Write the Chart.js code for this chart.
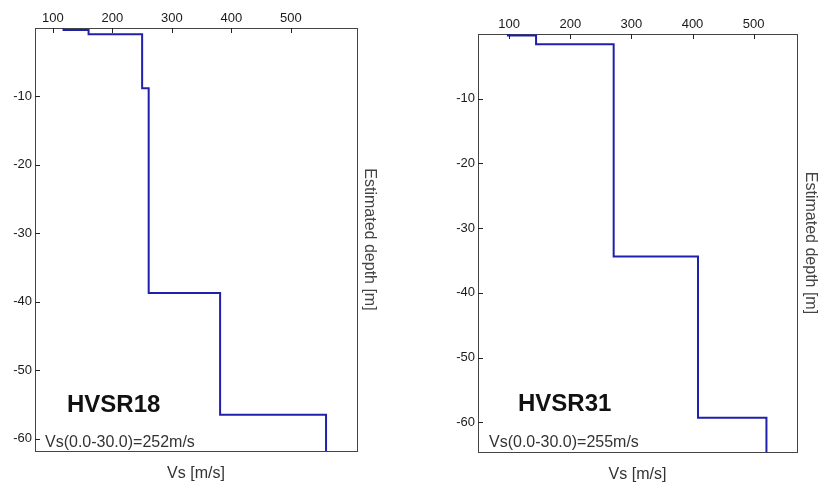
<!DOCTYPE html>
<html>
<head>
<meta charset="utf-8">
<script src="https://cdn.jsdelivr.net/npm/chart.js@4"></script>
<style>
  body { margin: 0; background: #fff; }
  canvas { position: absolute; top: 0; }
</style>
</head>
<body>
<canvas id="hvsr18" width="400" height="486" style="left:0"></canvas>
<canvas id="hvsr31" width="418" height="486" style="left:400px"></canvas>
<script>
// tick labels shared by both panels
const xTicks = [100, 200, 300, 400, 500];
const yTicks = [-10, -20, -30, -40, -50, -60];

// HVSR18: Vs of each layer and the depth of its top
const vs18 = [118, 160, 250, 261, 381, 559];
const top18 = [0, -0.3, -0.9, -8.8, -38.7, -56.5];
const xRange18 = [70, 611];
const yRange18 = [-61.8, 0];

// HVSR31
const vs31 = [98, 144, 271, 409, 521];
const top31 = [0, -0.25, -1.6, -34.4, -59.3];
const xRange31 = [49, 571];
const yRange31 = [-64.6, 0];

const FONT = '"Liberation Sans", Arial, sans-serif';
const LINE = '#2020aa';
const AXIS = '#444';

// step profile: one point per layer top, plus the bottom of the last layer
function profile(vs, tops, bottom) {
  var pts = vs.map((v, i) => ({ x: v, y: tops[i] }));
  pts.push({ x: vs[vs.length - 1], y: bottom });
  return pts;
}

// inward tick marks + the two labels inside the plot
const overlay = {
  id: 'overlay',
  afterDatasetsDraw(chart, args, o) {
    const ctx = chart.ctx, a = chart.chartArea, sx = chart.scales.x, sy = chart.scales.y;
    ctx.save();
    ctx.strokeStyle = '#222';
    ctx.lineWidth = 1;
    xTicks.forEach(v => {
      var px = Math.round(sx.getPixelForValue(v)) + 0.5;
      ctx.beginPath(); ctx.moveTo(px, a.top); ctx.lineTo(px, a.top + 5); ctx.stroke();
    });
    yTicks.forEach(v => {
      var py = Math.round(sy.getPixelForValue(v)) + 0.5;
      ctx.beginPath(); ctx.moveTo(a.left, py); ctx.lineTo(a.left + 5, py); ctx.stroke();
    });
    ctx.fillStyle = '#111';
    ctx.textBaseline = 'alphabetic';
    ctx.font = 'bold 24px ' + FONT;
    ctx.fillText(o.name, a.left + o.nameDx, a.bottom + o.nameDy);
    ctx.fillStyle = '#333';
    ctx.font = '16px ' + FONT;
    ctx.fillText(o.vs, a.left + o.vsDx, a.bottom + o.vsDy);
    ctx.restore();
  }
};

function makeChart(id, vs, tops, xr, yr, box, label) {
  const fit = (k, n) => function (s) { s[k] = n; };
  return new Chart(document.getElementById(id), {
    type: 'scatter',
    data: {
      datasets: [{
        data: profile(vs, tops, yr[0]),
        showLine: true,
        stepped: 'after',
        borderColor: LINE,
        borderWidth: 2,
        pointRadius: 0,
        xAxisID: 'x',
        yAxisID: 'y'
      }]
    },
    options: {
      responsive: false,
      animation: false,
      layout: { padding: 0 },
      plugins: {
        legend: { display: false },
        tooltip: { enabled: false },
        overlay: label
      },
      scales: {
        x: {
          type: 'linear', position: 'top', min: xr[0], max: xr[1],
          afterBuildTicks: s => { s.ticks = xTicks.map(v => ({ value: v })); },
          afterFit: fit('height', box.top),
          grid: { display: false, drawTicks: false },
          border: { display: true, color: AXIS },
          ticks: { color: '#1a1a1a', font: { family: FONT, size: 13 }, padding: 2, maxRotation: 0 }
        },
        xb: {
          type: 'linear', position: 'bottom', min: xr[0], max: xr[1],
          afterFit: fit('height', box.bottom),
          grid: { display: false, drawTicks: false },
          border: { display: true, color: AXIS },
          ticks: { display: false },
          title: { display: true, text: 'Vs [m/s]', color: '#333', font: { family: FONT, size: 16 }, padding: { bottom: box.titleB } }
        },
        y: {
          type: 'linear', position: 'left', min: yr[0], max: yr[1],
          afterBuildTicks: s => { s.ticks = yTicks.map(v => ({ value: v })); },
          afterFit: fit('width', box.left),
          grid: { display: false, drawTicks: false },
          border: { display: true, color: AXIS },
          ticks: { color: '#1a1a1a', font: { family: FONT, size: 13 }, padding: 3 }
        },
        yr: {
          type: 'linear', position: 'right', min: yr[0], max: yr[1],
          afterFit: fit('width', box.right),
          grid: { display: false, drawTicks: false },
          border: { display: true, color: AXIS },
          ticks: { display: false },
          title: { display: true, text: 'Estimated depth [m]', color: '#444', font: { family: FONT, size: 16 }, padding: { top: box.titleR } }
        }
      }
    },
    plugins: [overlay]
  });
}

makeChart('hvsr18', vs18, top18, xRange18, yRange18,
  { top: 28, bottom: 35, left: 35, right: 43, titleB: 3, titleR: 21 },
  { name: 'HVSR18', nameDx: 32, nameDy: -39, vs: 'Vs(0.0-30.0)=252m/s', vsDx: 10, vsDy: -4 });

makeChart('hvsr31', vs31, top31, xRange31, yRange31,
  { top: 34, bottom: 34, left: 78, right: 21, titleB: 2, titleR: -2 },
  { name: 'HVSR31', nameDx: 40, nameDy: -41, vs: 'Vs(0.0-30.0)=255m/s', vsDx: 11, vsDy: -5 });
</script>
</body>
</html>
